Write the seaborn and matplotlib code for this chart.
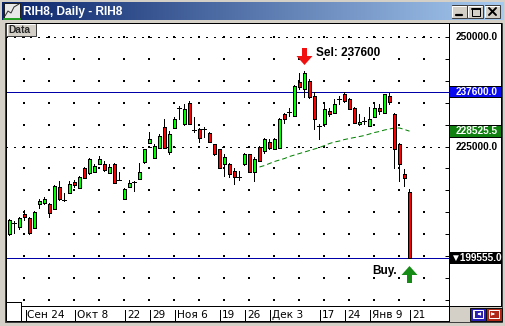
import numpy as np
import pandas as pd
import matplotlib
matplotlib.use("Agg")
import matplotlib.pyplot as plt
import seaborn as sns
from matplotlib.path import Path
from matplotlib.colors import LinearSegmentedColormap
from matplotlib.patches import Rectangle
from matplotlib.transforms import ScaledTranslation

# ---------------- data ----------------
opens = [205110, 207400, 206712, 209686, 208771, 206483, 211974, 212203, 211974, 210830,
         215864, 212950, 214491, 217008, 215635, 220211, 219067, 219296, 221126, 220898,
         219067, 220898, 217600, 213118, 215864, 216750, 217694, 221584, 225931, 222499,
         224787, 229592, 223872, 229363, 233800, 230050, 235083, 228950, 228906, 229150,
         228219, 225474, 224330, 221126, 220898, 219525, 218200, 220898, 223186, 219296,
         225016, 224101, 226160, 224558, 224787, 232338, 232750, 232109, 239888, 238058,
         240117, 236685, 229750, 230278, 233253, 232795, 235850, 237142, 235770, 233939,
         230050, 230800, 229821, 231880, 233939, 232795, 236685, 232566, 225474, 218838,
         214720]
highs = [208542, 208085, 209000, 210602, 209000, 210373, 213118, 213576, 212203, 216150,
         217237, 214491, 217237, 217466, 218200, 220250, 222499, 220898, 222957, 221813,
         220898, 221355, 219296, 215450, 217466, 217237, 221355, 224558, 228448, 225474,
         227762, 231194, 228677, 231880, 234397, 234854, 235541, 231880, 229363, 229592,
         228250, 225500, 224350, 223414, 221355, 220211, 219525, 223643, 223414, 222728,
         225050, 227075, 226618, 227075, 231450, 232795, 233939, 239000, 241947, 242405,
         240574, 237600, 230278, 234626, 233939, 235770, 236685, 237600, 236227, 233950,
         232566, 231880, 234168, 235083, 234854, 237142, 237371, 232795, 225931, 219982,
         215406]
lows = [204882, 205339, 206254, 208314, 205110, 206400, 211059, 211974, 209000, 210800,
        212890, 212660, 214450, 215864, 215600, 217900, 218838, 219250, 221100, 219525,
        219050, 216750, 217350, 213100, 215850, 214949, 217650, 221355, 225900, 222450,
        224750, 224750, 223414, 229350, 231194, 230000, 230250, 228448, 226160, 227304,
        226150, 223150, 220200, 218381, 218152, 216550, 217466, 220850, 219250, 217237,
        221800, 223643, 224558, 224550, 224750, 230507, 232109, 232100, 238286, 236456,
        236227, 229134, 226618, 229821, 232109, 232750, 234854, 235312, 233700, 230500,
        230000, 230050, 229800, 231850, 232566, 232750, 234854, 220211, 217237, 216093,
        199400]
closes = [208314, 207450, 208771, 209000, 205339, 210144, 212661, 213118, 209915, 216093,
          213118, 212750, 216550, 216322, 218152, 217923, 222042, 220669, 222042, 219754,
          220440, 216779, 217400, 215406, 216779, 216800, 219296, 224330, 226618, 225245,
          227533, 224787, 227990, 231194, 233850, 233710, 230278, 228900, 227075, 229100,
          226160, 223186, 220211, 222728, 218838, 218152, 218150, 223414, 219296, 222270,
          221813, 226618, 224787, 226618, 231422, 231194, 232800, 238973, 238744, 241947,
          236456, 231194, 229700, 233482, 232338, 234854, 235900, 235541, 233710, 230507,
          230736, 230850, 231422, 233939, 233253, 236914, 235312, 224558, 221126, 217923,
          199555]

ma_start = 50
ma_values = [220326, 220669, 221126, 221584, 221927, 222270, 222728, 223071, 223414, 223758,
             224101, 224444, 224787, 225245, 225703, 226046, 226275, 226618, 226847, 227075,
             227304, 227533, 227876, 228219, 228448, 228791, 229020, 229249, 229249, 228906,
             228525.5]

date_labels = ["Сен 24", "Окт 8", "22", "29", "Ноя 6", "19", "26", "Дек 3", "17", "24", "Янв 9", "21"]
date_label_idx = [3, 13, 23, 28, 33, 42, 47, 52, 62, 67, 72, 80]

price_levels = [250000, 245000, 240000, 235000, 230000, 225000, 220000,
                215000, 210000, 205000, 200000, 195000, 190000]
labeled_levels = [250000, 225000]
grid_col_idx = [3, 8, 13, 18, 23, 28, 33, 38, 43, 48, 53, 58, 63, 68, 73, 78, 83]

sel_price = 237600
buy_price = 199555
sel_idx = 59
buy_idx = 80

# ---------------- figure ----------------
sns.set_style("white")
plt.rcParams['font.family'] = ['Liberation Sans', 'DejaVu Sans']

W, H = 506, 326
GRAY = '#D4D0C8'
fig = plt.figure(figsize=(W / 100, H / 100), dpi=100, facecolor=GRAY)


def fr(x0, y0, x1, y1):
    return [x0 / W, 1 - y1 / H, (x1 - x0) / W, (y1 - y0) / H]


PX = 0.72  # one pixel in points

# window chrome overlay (pixel coordinates)
chrome = fig.add_axes([0, 0, 1, 1], zorder=0)
chrome.set_xlim(0, W)
chrome.set_ylim(H, 0)
chrome.set_axis_off()

# title bar gradient
cmap = LinearSegmentedColormap.from_list('tb', ['#0A246A', '#A6CAF0'])
chrome.imshow(np.linspace(0, 1, 256)[None, :], aspect='auto', cmap=cmap,
              extent=[2, 504, 20, 2], zorder=1)
chrome.text(23, 11.5, "RIH8, Daily - RIH8", color='white', fontweight='bold',
            fontsize=8.6, va='center', ha='left', zorder=3)
# icon
chrome.add_patch(Rectangle((4, 3), 16, 16, facecolor='#E8E8E8', edgecolor='#202020',
                           linewidth=PX, zorder=2))
chrome.plot([5, 8, 11, 14, 19], [16, 11, 13, 7, 4], color='#303030', lw=PX, zorder=3)
chrome.plot([4, 20], [18.5, 18.5], color='#20A020', lw=1.4, zorder=3)
# buttons
for bx in [452, 468, 485]:
    chrome.add_patch(Rectangle((bx, 5), 15, 13, facecolor=GRAY, edgecolor='#404040',
                               linewidth=PX, zorder=2))
    chrome.plot([bx + 0.5, bx + 0.5, bx + 14], [17, 5.8, 5.8], color='white', lw=PX, zorder=3)
chrome.plot([456, 462], [15, 15], color='black', lw=1.6, zorder=3)
chrome.add_patch(Rectangle((472, 8), 8, 8, facecolor='none', edgecolor='black',
                           linewidth=PX, zorder=3))
chrome.plot([472, 480], [8.6, 8.6], color='black', lw=1.4, zorder=3)
chrome.plot([489, 496], [8, 15], color='black', lw=1.4, zorder=3)
chrome.plot([489, 496], [15, 8], color='black', lw=1.4, zorder=3)

# outer chart frame
chrome.add_patch(Rectangle((5, 22.5), 497, 299, facecolor='white', edgecolor='#404040',
                           linewidth=PX, zorder=1))
# scroll buttons bottom right
chrome.add_patch(Rectangle((449, 306), 53, 15.5, facecolor=GRAY, edgecolor='none', zorder=2))
chrome.add_patch(Rectangle((470, 307.5), 16, 13, facecolor='#2A1FB0', edgecolor='#101010',
                           linewidth=PX, zorder=3))
chrome.add_patch(Rectangle((486, 307.5), 16, 13, facecolor='#B02818', edgecolor='#101010',
                           linewidth=PX, zorder=3))
chrome.add_patch(Rectangle((473, 310), 10, 8, facecolor='none', edgecolor='white',
                           linewidth=PX, zorder=4))
chrome.annotate("", xy=(474.5, 314), xytext=(482, 314),
                arrowprops=dict(arrowstyle='-|>', color='white', lw=PX, mutation_scale=4), zorder=4)
chrome.plot([474.5, 474.5], [311, 317], color='white', lw=PX, zorder=4)
chrome.add_patch(Rectangle((489, 310), 10, 8, facecolor='none', edgecolor='white',
                           linewidth=PX, zorder=4))
chrome.annotate("", xy=(497.5, 314), xytext=(490.5, 314),
                arrowprops=dict(arrowstyle='-|>', color='white', lw=PX, mutation_scale=4), zorder=4)

# ---------------- main price axes ----------------
ax = fig.add_axes(fr(6, 23, 449, 306), zorder=2)
ax.set_facecolor('white')
XL = (-0.7, 87.9)
YL = (188523, 253273)
ax.set_xlim(*XL)
ax.set_ylim(*YL)
for s in ax.spines.values():
    s.set_color('black')
    s.set_linewidth(PX)
ax.set_xticks([])
ax.set_yticks(price_levels)
ax.tick_params(axis='y', direction='in', length=4 * PX, width=PX, color='black',
               left=False, right=True, labelleft=False, labelright=False)

# dotted grid
gx, gy = np.meshgrid(grid_col_idx, price_levels)
ax.scatter(gx.ravel(), gy.ravel(), s=(1.3 * PX) ** 2, marker='s', c='black',
           linewidths=0, zorder=1)
for lv in labeled_levels:
    ax.axhline(lv, color='black', lw=PX * 1.1, linestyle=(0, (1, 6)), antialiased=False, zorder=1)

# horizontal blue lines
ax.axhline(sel_price, color='#0000A8', lw=PX, antialiased=False, zorder=2)
ax.axhline(buy_price, color='#0000A8', lw=PX, antialiased=False, zorder=2)

# moving average (green dashed)
ma_df = pd.DataFrame({'idx': np.arange(ma_start, ma_start + len(ma_values)),
                      'ma': ma_values})
sns.lineplot(data=ma_df, x='idx', y='ma', ax=ax, color='#008000', linewidth=PX,
             legend=False, zorder=2)
ax.lines[-1].set_linestyle((0, (5, 3)))
ax.set_xlabel('')
ax.set_ylabel('')

# candles
o = np.array(opens, float)
c = np.array(closes, float)
h = np.array(highs, float)
l = np.array(lows, float)
idx = np.arange(len(o))
ax.vlines(idx, l, h, color='black', linewidth=PX, antialiased=False, zorder=3)
body = np.abs(c - o) >= 300
colors = np.where(c > o, '#00FF00', '#FF0000')
ax.bar(idx[body], np.abs(c - o)[body], bottom=np.minimum(o, c)[body], width=0.6,
       color=colors[body], edgecolor='black', linewidth=PX, antialiased=False, zorder=4)
ax.hlines(c[~body], idx[~body] - 0.4, idx[~body] + 0.4, color='black', linewidth=PX,
          antialiased=False, zorder=4)

# arrows and signal texts
arrow_verts = [(-2.5, 8.5), (2.5, 8.5), (2.5, 0.5), (8, 0.5), (0, -8.5), (-8, 0.5),
               (-2.5, 0.5), (-2.5, 8.5)]
down_arrow = Path(arrow_verts, closed=True)
up_arrow = Path([(x, -y) for x, y in arrow_verts], closed=True)
ax.plot([sel_idx], [highs[sel_idx]], marker=down_arrow, markersize=17 * PX,
        color='#F01010', markeredgewidth=0, linestyle='none', zorder=5,
        transform=ax.transData + ScaledTranslation(0, 15 / 100, fig.dpi_scale_trans))
ax.plot([buy_idx], [lows[buy_idx]], marker=up_arrow, markersize=17 * PX,
        color='#168C16', markeredgewidth=0, linestyle='none', zorder=5,
        transform=ax.transData + ScaledTranslation(0, -16 / 100, fig.dpi_scale_trans))
ax.annotate(f"Sel: {sel_price}", xy=(sel_idx, highs[sel_idx]), xytext=(12, 18),
            textcoords='offset pixels', ha='left', va='center', fontsize=8.5,
            fontweight='bold', color='black', zorder=6)
ax.annotate("Buy.", xy=(buy_idx, lows[buy_idx]), xytext=(-13, -13),
            textcoords='offset pixels', ha='right', va='center', fontsize=8.5,
            fontweight='bold', color='black', zorder=6)

# "Data" tag
chrome_top = fig.add_axes([0, 0, 1, 1], zorder=5)
chrome_top.set_xlim(0, W)
chrome_top.set_ylim(H, 0)
chrome_top.set_axis_off()
chrome_top.patch.set_alpha(0)
chrome_top.add_patch(Rectangle((6.5, 23.5), 30, 12, facecolor=GRAY, edgecolor='#404040',
                               linewidth=PX))
chrome_top.plot([7.2, 7.2, 35.5], [35, 24.2, 24.2], color='white', lw=PX)
chrome_top.text(8.5, 30, "Data", fontsize=7.4, fontweight='bold', va='center', ha='left')
# small square in bottom-left corner
chrome_top.add_patch(Rectangle((6.5, 302), 14.5, 18.5, facecolor='white', edgecolor='black',
                               linewidth=PX))

# ---------------- right price panel ----------------
axr = fig.add_axes(fr(449, 23, 501, 306), zorder=3)
axr.set_facecolor('white')
axr.set_xlim(0, 52)
axr.set_ylim(*YL)
axr.set_xticks([])
axr.set_yticks([])
for s in axr.spines.values():
    s.set_color('black')
    s.set_linewidth(PX)
ppx = (YL[1] - YL[0]) / 283.0  # price per pixel
for lv in labeled_levels:
    axr.text(7, lv, f"{lv:.1f}", fontsize=7.2, fontweight='bold', color='black',
             va='center', ha='left')
box_specs = [(sel_price, f"{sel_price:.1f}", '#0A0AF0'),
             (ma_values[-1], f"{ma_values[-1]:.1f}", '#108010'),
             (buy_price, f"\u25bc{buy_price:.1f}", '#000000')]
for val, txt, colr in box_specs:
    axr.add_patch(Rectangle((0.5, val - 5.5 * ppx), 51.5, 11.5 * ppx, facecolor=colr,
                            edgecolor='black', linewidth=PX, zorder=2))
    axr.text(7 if not txt.startswith('\u25bc') else 1.5, val, txt, fontsize=7.2,
             fontweight='bold', color='white', va='center', ha='left', zorder=3,
             family=['Liberation Sans', 'DejaVu Sans'])

# ---------------- bottom time panel ----------------
axb = fig.add_axes(fr(21, 306, 449, 320.5), zorder=3)
axb.set_facecolor('white')
axb.set_xlim(XL[0] + 15 / 5, XL[1])
axb.set_ylim(0, 1)
axb.set_xticks([])
axb.set_yticks([])
for s in axb.spines.values():
    s.set_color('black')
    s.set_linewidth(PX)
for i, lab in zip(date_label_idx, date_labels):
    axb.vlines(i + 0.2, 0, 0.75, color='black', lw=PX, antialiased=False)
    axb.text(i + 0.55, 0.4, lab, fontsize=7.6, color='black', va='center', ha='left',
             family=['DejaVu Sans'])

fig.savefig("out.png", dpi=100, facecolor=GRAY)
